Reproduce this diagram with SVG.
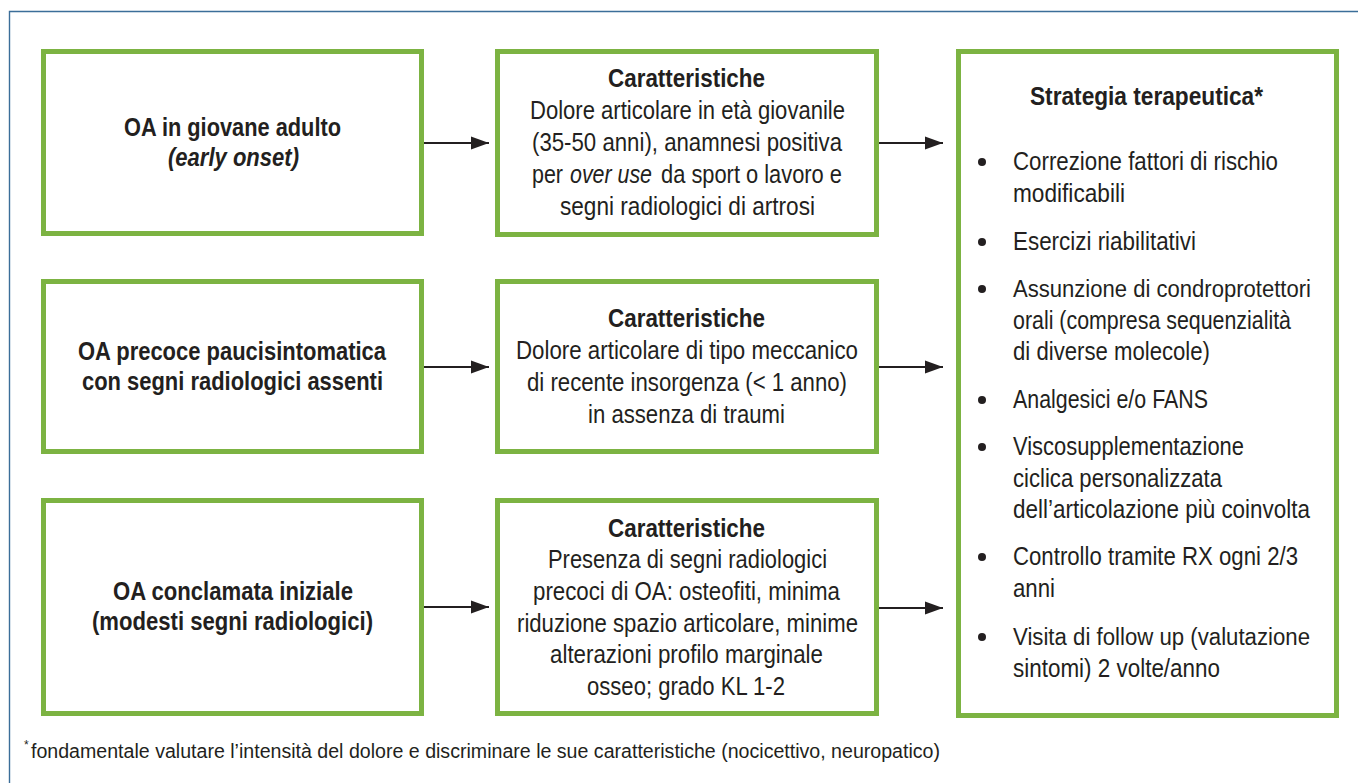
<svg xmlns="http://www.w3.org/2000/svg" width="1358" height="783" viewBox="0 0 1358 783">
<style>
.box{fill:#fff;stroke:#7cb342;stroke-width:5}
.t{font-family:"Liberation Sans",Arial,sans-serif;font-size:26px;fill:#231f20}
.b{font-weight:bold}
.i{font-style:italic}
.s{font-size:23.5px}
.f{font-family:"Liberation Sans",Arial,sans-serif;font-size:20px;fill:#231f20}
.ast{font-size:12px}
.arr{stroke:#231f20;stroke-width:2.2;fill:none;marker-end:url(#ah)}
</style>
<defs>
<marker id="ah" markerUnits="userSpaceOnUse" markerWidth="18" markerHeight="14" refX="18" refY="7" orient="auto">
<path d="M0,0.5 L18,7 L0,13.5 z" fill="#231f20"/>
</marker>
</defs>
<rect width="1358" height="783" fill="#fff"/>
<path d="M9.5,783 V11.5 H1358" fill="none" stroke="#3b6e99" stroke-width="1.4"/>

<g id="n1">
<rect class="box" x="43.5" y="51.5" width="378" height="182"/>
<text class="t b" x="124" y="136" textLength="217" lengthAdjust="spacingAndGlyphs">OA in giovane adulto</text>
<text class="t b i" x="168" y="166" textLength="131" lengthAdjust="spacingAndGlyphs">(early onset)</text>
</g>
<g id="n2">
<rect class="box" x="43.5" y="281.5" width="378" height="170"/>
<text class="t b" x="78" y="360" textLength="308" lengthAdjust="spacingAndGlyphs">OA precoce paucisintomatica</text>
<text class="t b" x="82" y="390" textLength="301" lengthAdjust="spacingAndGlyphs">con segni radiologici assenti</text>
</g>
<g id="n3">
<rect class="box" x="43.5" y="500.5" width="378" height="213"/>
<text class="t b" x="113" y="600" textLength="240" lengthAdjust="spacingAndGlyphs">OA conclamata iniziale</text>
<text class="t b" x="92" y="630" textLength="281" lengthAdjust="spacingAndGlyphs">(modesti segni radiologici)</text>
</g>

<g id="c1">
<rect class="box" x="497.5" y="51.5" width="379" height="183"/>
<text class="t b" x="608" y="87" textLength="157" lengthAdjust="spacingAndGlyphs">Caratteristiche</text>
<text class="t" x="530" y="119" textLength="315" lengthAdjust="spacingAndGlyphs">Dolore articolare in età giovanile</text>
<text class="t" x="532" y="151" textLength="310" lengthAdjust="spacingAndGlyphs">(35-50 anni), anamnesi positiva</text>
<text class="t" x="532" y="183" textLength="31" lengthAdjust="spacingAndGlyphs">per</text>
<text class="t i" x="570" y="183" textLength="82" lengthAdjust="spacingAndGlyphs">over use</text>
<text class="t" x="661" y="183" textLength="181" lengthAdjust="spacingAndGlyphs">da sport o lavoro e</text>
<text class="t" x="560" y="215" textLength="255" lengthAdjust="spacingAndGlyphs">segni radiologici di artrosi</text>
</g>
<g id="c2">
<rect class="box" x="497.5" y="281.5" width="379" height="170"/>
<text class="t b" x="608" y="327" textLength="157" lengthAdjust="spacingAndGlyphs">Caratteristiche</text>
<text class="t" x="516" y="359" textLength="342" lengthAdjust="spacingAndGlyphs">Dolore articolare di tipo meccanico</text>
<text class="t" x="527" y="391" textLength="320" lengthAdjust="spacingAndGlyphs">di recente insorgenza (&lt; 1 anno)</text>
<text class="t" x="588" y="423" textLength="197" lengthAdjust="spacingAndGlyphs">in assenza di traumi</text>
</g>
<g id="c3">
<rect class="box" x="497.5" y="500.5" width="379" height="213"/>
<text class="t b" x="608" y="537" textLength="157" lengthAdjust="spacingAndGlyphs">Caratteristiche</text>
<text class="t" x="548" y="568" textLength="279" lengthAdjust="spacingAndGlyphs">Presenza di segni radiologici</text>
<text class="t" x="533" y="600" textLength="307" lengthAdjust="spacingAndGlyphs">precoci di OA: osteofiti, minima</text>
<text class="t" x="517" y="632" textLength="341" lengthAdjust="spacingAndGlyphs">riduzione spazio articolare, minime</text>
<text class="t" x="550" y="663" textLength="273" lengthAdjust="spacingAndGlyphs">alterazioni profilo marginale</text>
<text class="t" x="587" y="695" textLength="198" lengthAdjust="spacingAndGlyphs">osseo; grado KL 1-2</text>
</g>

<g id="strategia">
<rect class="box" x="958.5" y="51.5" width="378" height="664"/>
<text class="t b" x="1030" y="105" textLength="233" lengthAdjust="spacingAndGlyphs">Strategia terapeutica*</text>
<g fill="#231f20">
<circle cx="982" cy="162" r="4"/>
<circle cx="982" cy="242" r="4"/>
<circle cx="982" cy="289" r="4"/>
<circle cx="982" cy="400" r="4"/>
<circle cx="982" cy="447" r="4"/>
<circle cx="982" cy="557" r="4"/>
<circle cx="982" cy="637" r="4"/>
</g>
<text class="t" x="1013" y="170" textLength="265" lengthAdjust="spacingAndGlyphs">Correzione fattori di rischio</text>
<text class="t" x="1013" y="202" textLength="112" lengthAdjust="spacingAndGlyphs">modificabili</text>
<text class="t" x="1013" y="250" textLength="183" lengthAdjust="spacingAndGlyphs">Esercizi riabilitativi</text>
<text class="t s" x="1013" y="297" textLength="298" lengthAdjust="spacingAndGlyphs">Assunzione di condroprotettori</text>
<text class="t" x="1013" y="329" textLength="278" lengthAdjust="spacingAndGlyphs">orali (compresa sequenzialità</text>
<text class="t" x="1013" y="360" textLength="197" lengthAdjust="spacingAndGlyphs">di diverse molecole)</text>
<text class="t" x="1013" y="408" textLength="195" lengthAdjust="spacingAndGlyphs">Analgesici e/o FANS</text>
<text class="t" x="1013" y="455" textLength="231" lengthAdjust="spacingAndGlyphs">Viscosupplementazione</text>
<text class="t" x="1013" y="487" textLength="209" lengthAdjust="spacingAndGlyphs">ciclica personalizzata</text>
<text class="t" x="1013" y="518" textLength="297" lengthAdjust="spacingAndGlyphs">dell’articolazione più coinvolta</text>
<text class="t" x="1013" y="565" textLength="285" lengthAdjust="spacingAndGlyphs">Controllo tramite RX ogni 2/3</text>
<text class="t" x="1013" y="597" textLength="42" lengthAdjust="spacingAndGlyphs">anni</text>
<text class="t s" x="1013" y="645" textLength="297" lengthAdjust="spacingAndGlyphs">Visita di follow up (valutazione</text>
<text class="t" x="1013" y="677" textLength="207" lengthAdjust="spacingAndGlyphs">sintomi) 2 volte/anno</text>
</g>

<g id="connectors">
<line class="arr" x1="424" y1="143" x2="489" y2="143"/>
<line class="arr" x1="424" y1="367" x2="489" y2="367"/>
<line class="arr" x1="424" y1="607" x2="489" y2="607"/>
<line class="arr" x1="879" y1="143" x2="943" y2="143"/>
<line class="arr" x1="879" y1="367" x2="943" y2="367"/>
<line class="arr" x1="879" y1="608" x2="943" y2="608"/>
</g>

<g id="footnote">
<text class="f ast" x="24" y="749">*</text>
<text class="f" x="31" y="758" textLength="909" lengthAdjust="spacingAndGlyphs">fondamentale valutare l’intensità del dolore e discriminare le sue caratteristiche (nocicettivo, neuropatico)</text>
</g>
</svg>
